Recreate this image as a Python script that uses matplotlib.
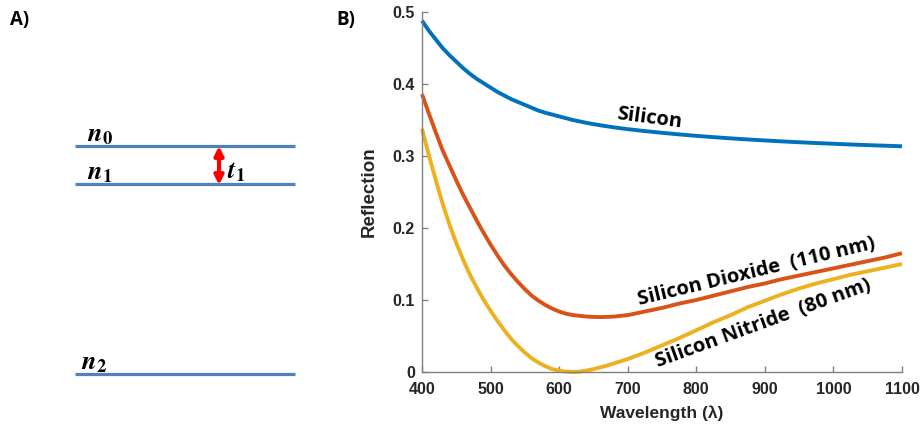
import numpy as np
import matplotlib.pyplot as plt

# reflection curves (same wavelength grid for all three)
wavelength = np.array([400, 410, 420, 430, 440, 450, 460, 470, 480, 490, 500,
                       510, 520, 530, 540, 550, 560, 570, 580, 590, 600, 610,
                       620, 630, 640, 650, 660, 670, 680, 690, 700, 725, 750,
                       775, 800, 825, 850, 875, 900, 925, 950, 975, 1000, 1025,
                       1050, 1075, 1100])
r_si = np.array([0.488, 0.474, 0.462, 0.450, 0.440, 0.431, 0.422, 0.414, 0.407,
                 0.401, 0.395, 0.389, 0.384, 0.379, 0.375, 0.371, 0.367, 0.363,
                 0.360, 0.3575, 0.355, 0.3525, 0.350, 0.348, 0.346, 0.3443, 0.3427,
                 0.3412, 0.3398, 0.3385, 0.3373, 0.3346, 0.3322, 0.330, 0.328,
                 0.3262, 0.3245, 0.323, 0.3216, 0.3203, 0.3191, 0.318, 0.317,
                 0.316, 0.3151, 0.3143, 0.3135])
r_sio2 = np.array([0.386, 0.359, 0.333, 0.308, 0.287, 0.266, 0.246, 0.228, 0.210,
                   0.193, 0.177, 0.162, 0.148, 0.136, 0.125, 0.115, 0.106, 0.099,
                   0.093, 0.088, 0.084, 0.081, 0.079, 0.078, 0.077, 0.0765, 0.0763,
                   0.0765, 0.077, 0.078, 0.079, 0.084, 0.089, 0.095, 0.100, 0.106,
                   0.112, 0.118, 0.123, 0.129, 0.134, 0.139, 0.144, 0.149, 0.154,
                   0.159, 0.165])
r_sin = np.array([0.338, 0.301, 0.267, 0.234, 0.205, 0.179, 0.156, 0.135, 0.117,
                  0.100, 0.085, 0.071, 0.058, 0.046, 0.036, 0.027, 0.019, 0.013,
                  0.008, 0.004, 0.002, 0.0005, 0.000, 0.0005, 0.002, 0.004, 0.0065,
                  0.009, 0.012, 0.015, 0.018, 0.027, 0.037, 0.047, 0.058, 0.069,
                  0.079, 0.090, 0.099, 0.108, 0.116, 0.123, 0.129, 0.135, 0.140,
                  0.145, 0.150])

x_ticks = [400, 500, 600, 700, 800, 900, 1000, 1100]
y_ticks = [0, 0.1, 0.2, 0.3, 0.4, 0.5]
y_ticklabels = ['0', '0.1', '0.2', '0.3', '0.4', '0.5']

# layer diagram (panel A), in pixel units of the figure
layer_labels = [r'$\mathbfit{n}_{\mathbf{0}}$', r'$\mathbfit{n}_{\mathbf{1}}$',
                r'$\mathbfit{n}_{\mathbf{2}}$']
layer_y = [146, 184, 374]

plt.rcParams['font.family'] = ['Liberation Sans', 'DejaVu Sans']
plt.rcParams['mathtext.fontset'] = 'stix'

fig = plt.figure(figsize=(9.22, 4.28), dpi=100)

# panel A
axa = fig.add_axes([0, 0, 1, 1])
axa.set_xlim(0, 922)
axa.set_ylim(428, 0)
axa.axis('off')
for y in layer_y:
    axa.plot([75, 295], [y, y], color='#4f81bd', lw=2.3, solid_capstyle='butt')
axa.text(87, 141, layer_labels[0], fontsize=19, va='baseline', ha='left')
axa.text(87, 179, layer_labels[1], fontsize=19, va='baseline', ha='left')
axa.text(81, 369, layer_labels[2], fontsize=19, va='baseline', ha='left')
axa.annotate('', xy=(219, 146), xytext=(219, 185),
             arrowprops=dict(arrowstyle='<|-|>', color='#ff0000', lw=3,
                             mutation_scale=13, shrinkA=0, shrinkB=0))
axa.text(227, 178, r'$\mathbfit{t}_{\mathbf{1}}$', fontsize=19, va='baseline', ha='left')
axa.text(10, 25, 'A)', fontsize=13.5, fontweight='bold', family='Open Sans', va='baseline')
axa.text(336, 25, 'B)', fontsize=13.5, fontweight='bold', family='Open Sans', va='baseline')

# panel B
ax = fig.add_axes([422 / 922, 1 - 372 / 428, 480 / 922, 360 / 428])
line_kw = dict(lw=2.8, clip_on=False, solid_joinstyle='round', solid_capstyle='butt')
ax.plot(wavelength, r_si, color='#0072bd', **line_kw)
ax.plot(wavelength, r_sio2, color='#d95319', **line_kw)
ax.plot(wavelength, r_sin, color='#edb120', **line_kw)

ax.set_xlim(400, 1100)
ax.set_ylim(0, 0.5)
ax.set_xticks(x_ticks)
ax.set_yticks(y_ticks)
ax.set_yticklabels(y_ticklabels)
for s in ['top', 'right']:
    ax.spines[s].set_visible(False)
for s in ['left', 'bottom']:
    ax.spines[s].set_color('#808080')
    ax.spines[s].set_linewidth(1.0)
ax.tick_params(direction='in', length=4, width=1, color='#808080',
               labelsize=11.5, labelcolor='#262626')
ax.tick_params(axis='x', pad=7)
ax.tick_params(axis='y', pad=5)
for lab in ax.get_xticklabels() + ax.get_yticklabels():
    lab.set_fontweight('bold')
ax.set_xlabel('Wavelength (λ)', fontsize=12.5, fontweight='bold', color='#262626')
ax.set_ylabel('Reflection', fontsize=13.5, fontweight='bold', color='#262626')
ax.xaxis.set_label_coords(0.5, -0.094)
ax.yaxis.set_label_coords(-0.092, 0.5)

lab_kw = dict(fontsize=14.5, fontweight='bold', family='Open Sans', ha='center',
              va='center', rotation_mode='anchor', color='black')
ax.text(732, 0.352, 'Silicon', rotation=-7.5, **lab_kw)
ax.text(888, 0.139, 'Silicon Dioxide  (110 nm)', rotation=13.5, **lab_kw)
ax.text(897, 0.067, 'Silicon Nitride  (80 nm)', rotation=20, **lab_kw)

fig.savefig('out.png', dpi=100)
